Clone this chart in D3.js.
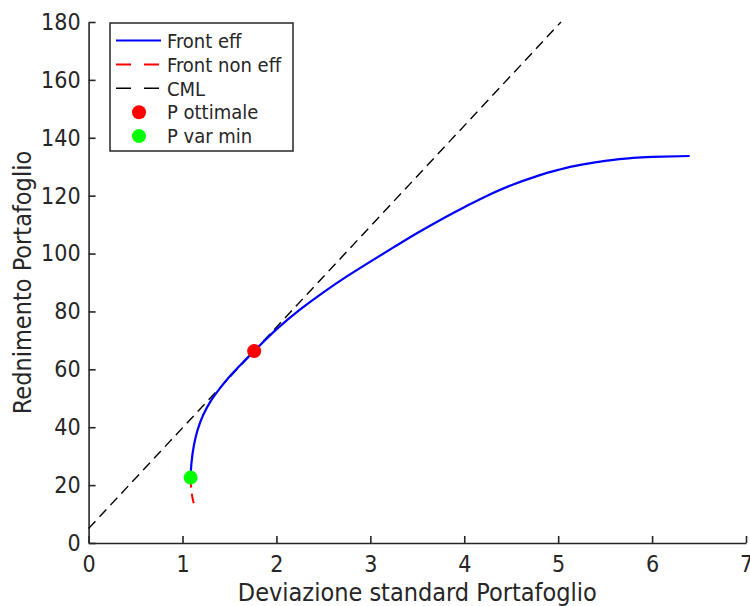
<!DOCTYPE html>
<html>
<head>
<meta charset="utf-8">
<script src="https://cdn.jsdelivr.net/npm/d3@7"></script>
<style>
  body { margin: 0; background: #fff; }
  svg text { font-family: "DejaVu Sans Condensed", "DejaVu Sans", sans-serif; font-stretch: condensed; fill: #262626; }
</style>
</head>
<body>
<div id="chart"></div>
<script>
// frontiera efficiente (deviazione standard, rendimento)
const effSigma = [1.086, 1.095, 1.12, 1.16, 1.22, 1.30, 1.40, 1.52, 1.64, 1.763, 2.00, 2.25, 2.50, 2.75, 3.00, 3.25, 3.50, 3.75, 4.00, 4.25, 4.50, 4.75, 5.00, 5.25, 5.50, 5.75, 6.00, 6.40];
const effMu    = [22.6, 27.5, 33.5, 39.0, 44.2, 49.0, 53.5, 58.2, 62.3, 66.3, 73.8, 80.6, 86.6, 92.1, 97.2, 102.2, 107.1, 111.7, 116.0, 120.1, 123.6, 126.5, 128.9, 130.7, 132.0, 132.9, 133.4, 133.7];
// frontiera non efficiente
const nonSigma = [1.086, 1.095, 1.11, 1.13];
const nonMu    = [22.6, 18.0, 15.0, 12.5];
// capital market line
const cmlSigma = [0, 5.03];
const cmlMu    = [5, 180];
// portafogli
const pOtt = [1.763, 66.3];
const pVarMin = [1.086, 22.6];

const xTicks = [0, 1, 2, 3, 4, 5, 6, 7];
const yTicks = [0, 20, 40, 60, 80, 100, 120, 140, 160, 180];

const legendItems = ['Front eff', 'Front non eff', 'CML', 'P ottimale', 'P var min'];

const W = 750, H = 606;
const axisCol = '#262626';

const x = d3.scaleLinear().domain([0, 7]).range([88.6, 746]);
const y = d3.scaleLinear().domain([0, 180]).range([543, 22]);

const svg = d3.select('#chart').append('svg')
  .attr('width', W).attr('height', H);

svg.append('rect').attr('width', W).attr('height', H).style('fill', '#fff');

// assi
const gx = svg.append('g')
  .attr('transform', `translate(0,${y(0)})`)
  .call(d3.axisBottom(x).tickValues(xTicks).tickFormat(d3.format('d'))
    .tickSizeInner(-7).tickSizeOuter(0).tickPadding(13));
gx.select('.domain').attr('stroke', axisCol).attr('stroke-width', 1.6);
gx.selectAll('.tick line').attr('stroke', axisCol).attr('stroke-width', 1.6);
gx.selectAll('.tick text').style('font-size', '23px');

const gy = svg.append('g')
  .attr('transform', `translate(${x(0)},0)`)
  .call(d3.axisLeft(y).tickValues(yTicks).tickFormat(d3.format('d'))
    .tickSizeInner(-7).tickSizeOuter(0).tickPadding(8));
gy.select('.domain').attr('stroke', axisCol).attr('stroke-width', 1.6);
gy.selectAll('.tick line').attr('stroke', axisCol).attr('stroke-width', 1.6);
gy.selectAll('.tick text').style('font-size', '23px');

svg.append('text')
  .attr('x', (x(0) + x(7)) / 2).attr('y', 601)
  .attr('text-anchor', 'middle')
  .style('font-size', '25px')
  .text('Deviazione standard Portafoglio');

svg.append('text')
  .attr('transform', `translate(31,${(y(0) + y(180)) / 2}) rotate(-90)`)
  .attr('text-anchor', 'middle')
  .style('font-size', '25px')
  .text('Rednimento Portafoglio');

// curve
const line = d3.line()
  .x(d => x(d[0])).y(d => y(d[1]))
  .curve(d3.curveMonotoneY);

svg.append('path')
  .datum(cmlSigma.map((s, i) => [s, cmlMu[i]]))
  .attr('d', d3.line().x(d => x(d[0])).y(d => y(d[1])))
  .style('fill', 'none').style('stroke', '#000')
  .style('stroke-width', 1.4).style('stroke-dasharray', '10,6');

svg.append('path')
  .datum(nonSigma.map((s, i) => [s, nonMu[i]]))
  .attr('d', line)
  .style('fill', 'none').style('stroke', '#ff0000')
  .style('stroke-width', 2).style('stroke-dasharray', '10,6');

svg.append('path')
  .datum(effSigma.map((s, i) => [s, effMu[i]]))
  .attr('d', line)
  .style('fill', 'none').style('stroke', '#0000ff')
  .style('stroke-width', 2.2);

svg.append('circle')
  .attr('cx', x(pOtt[0])).attr('cy', y(pOtt[1])).attr('r', 7)
  .style('fill', '#ff0000');

svg.append('circle')
  .attr('cx', x(pVarMin[0])).attr('cy', y(pVarMin[1])).attr('r', 7)
  .style('fill', '#00ff00');

// legenda
const lg = svg.append('g');
lg.append('rect')
  .attr('x', 110).attr('y', 23).attr('width', 183).attr('height', 128)
  .style('fill', '#fff').style('stroke', axisCol).style('stroke-width', 1.5);

const rowY = i => 40.5 + i * 23.9;
const legendStyle = [
  {type: 'line', color: '#0000ff', dash: null},
  {type: 'line', color: '#ff0000', dash: '15,13'},
  {type: 'line', color: '#000', dash: '15,13'},
  {type: 'dot', color: '#ff0000'},
  {type: 'dot', color: '#00ff00'}
];

legendItems.forEach((label, i) => {
  const st = legendStyle[i];
  if (st.type === 'line') {
    lg.append('line')
      .attr('x1', 116).attr('x2', 161).attr('y1', rowY(i)).attr('y2', rowY(i))
      .style('stroke', st.color)
      .style('stroke-width', i === 2 ? 1.4 : 2)
      .style('stroke-dasharray', st.dash);
  } else {
    lg.append('circle')
      .attr('cx', 139).attr('cy', rowY(i)).attr('r', 7)
      .style('fill', st.color);
  }
  lg.append('text')
    .attr('x', 167).attr('y', rowY(i)).attr('dy', '0.36em')
    .style('font-size', '20px')
    .text(label);
});
</script>
</body>
</html>
